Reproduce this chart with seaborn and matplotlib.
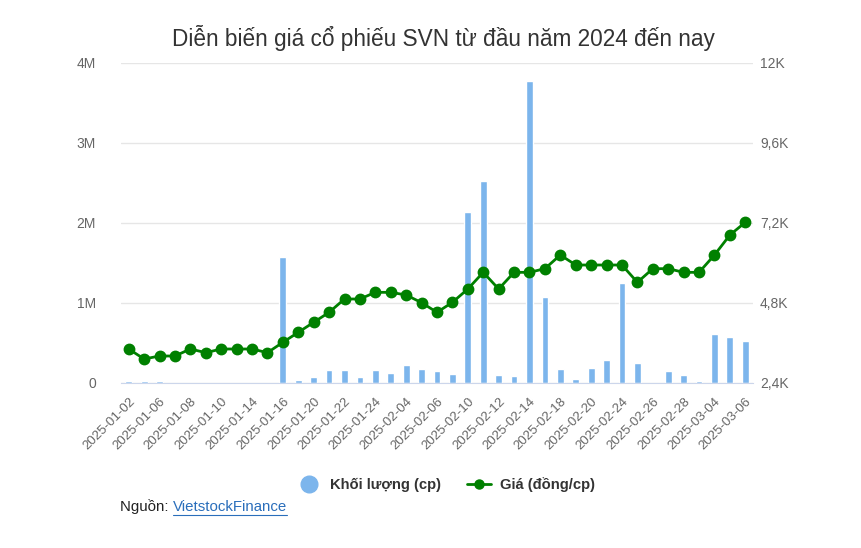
import matplotlib
matplotlib.use("Agg")
import matplotlib.pyplot as plt
from matplotlib.lines import Line2D
import seaborn as sns
import pandas as pd

dates = ["2025-01-02", "2025-01-03", "2025-01-06", "2025-01-07", "2025-01-08", "2025-01-09",
         "2025-01-10", "2025-01-13", "2025-01-14", "2025-01-15", "2025-01-16", "2025-01-17",
         "2025-01-20", "2025-01-21", "2025-01-22", "2025-01-23", "2025-01-24", "2025-02-03",
         "2025-02-04", "2025-02-05", "2025-02-06", "2025-02-07", "2025-02-10", "2025-02-11",
         "2025-02-12", "2025-02-13", "2025-02-14", "2025-02-17", "2025-02-18", "2025-02-19",
         "2025-02-20", "2025-02-21", "2025-02-24", "2025-02-25", "2025-02-26", "2025-02-27",
         "2025-02-28", "2025-03-03", "2025-03-04", "2025-03-05", "2025-03-06"]

# khoi luong (cp)
volume = [25000, 20000, 20000, 0, 0, 0, 0, 0, 0, 0, 1570000, 40000,
          70000, 160000, 160000, 70000, 160000, 130000, 220000, 180000, 150000, 110000,
          2140000, 2520000, 100000, 90000, 3780000, 1080000, 175000, 50000, 190000, 290000,
          1250000, 250000, 0, 145000, 100000, 25000, 610000, 570000, 520000]

# gia (dong/cp)
price = [3420, 3120, 3210, 3210, 3420, 3310, 3420, 3420, 3420, 3310, 3620, 3920,
         4220, 4520, 4920, 4920, 5120, 5120, 5040, 4810, 4520, 4820, 5220, 5720,
         5220, 5720, 5720, 5830, 6240, 5940, 5940, 5940, 5940, 5420, 5830, 5830,
         5720, 5720, 6240, 6840, 7220]

df = pd.DataFrame({"date": dates, "volume": volume, "price": price})

sns.set_style("white")
plt.rcParams["font.family"] = ["Liberation Sans", "DejaVu Sans"]

fig = plt.figure(figsize=(8.62, 5.48), dpi=100)
ax = fig.add_axes([121 / 862, 1 - 383 / 548, (753 - 121) / 862, (383 - 63) / 548])

sns.barplot(data=df, x="date", y="volume", color="#7cb5ec", saturation=1, width=0.44, ax=ax)
ax.set_ylim(0, 4e6)
ax.set_yticks([0, 1e6, 2e6, 3e6, 4e6])
ax.set_yticklabels(["0", "1M", "2M", "3M", "4M"])
ax.yaxis.grid(True, color="#e6e6e6", linewidth=1)
ax.set_axisbelow(True)

ax2 = ax.twinx()
sns.pointplot(data=df, x="date", y="price", color="#008000", markers="o",
              markersize=7, linewidth=2, ax=ax2)
ax2.set_ylim(2400, 12000)
ax2.set_yticks([2400, 4800, 7200, 9600, 12000])
ax2.set_yticklabels(["2,4K", "4,8K", "7,2K", "9,6K", "12K"])

ax.set_xlim(-0.5, len(dates) - 0.5)
ax.set_xticks(range(0, len(dates), 2))
ax.set_xticklabels(dates[::2], rotation=45, ha="right", rotation_mode="anchor",
                   fontsize=9.5, color="#666666")

for a in (ax, ax2):
    for s in a.spines.values():
        s.set_visible(False)
    a.set_xlabel("")
    a.set_ylabel("")
ax.spines["bottom"].set_visible(True)
ax.spines["bottom"].set_color("#ccd6eb")
ax.tick_params(axis="x", length=8, color="#ccd6eb", pad=1)
ax.tick_params(axis="y", length=0, labelsize=10, labelcolor="#666666", pad=18)
ax2.tick_params(axis="y", length=0, labelsize=10, labelcolor="#666666", pad=5)

fig.text(443 / 862, 1 - 38 / 548, "Diễn biến giá cổ phiếu SVN từ đầu năm 2024 đến nay",
         ha="center", va="center", fontsize=16.3, color="#333333")

handles = [Line2D([], [], marker="o", linestyle="none", markersize=12, color="#7cb5ec"),
           Line2D([], [], marker="o", color="#008000", markersize=6.5, linewidth=2)]
fig.legend(handles, ["Khối lượng (cp)", "Giá (đồng/cp)"], loc="center",
           bbox_to_anchor=(446 / 862, 1 - 485 / 548), ncol=2, frameon=False,
           prop={"weight": "bold", "size": 10.6}, handlelength=1.6, columnspacing=1.8,
           handletextpad=0.6, labelcolor="#333333")

t1 = fig.text(120 / 862, 1 - 507 / 548, "Nguồn: ", ha="left", va="center",
              fontsize=10.8, color="#222222")
r = fig.canvas.get_renderer()
bb = t1.get_window_extent(r)
t2 = fig.text(bb.x1 / 862, 1 - 507 / 548, "VietstockFinance", ha="left", va="center",
              fontsize=10.8, color="#2a6ebb")
bb2 = t2.get_window_extent(r)
fig.add_artist(Line2D([bb2.x0 / 862, bb2.x1 / 862], [(bb2.y0 - 1) / 548, (bb2.y0 - 1) / 548],
                      color="#2a6ebb", linewidth=0.8))

fig.savefig("out.png", dpi=100)
